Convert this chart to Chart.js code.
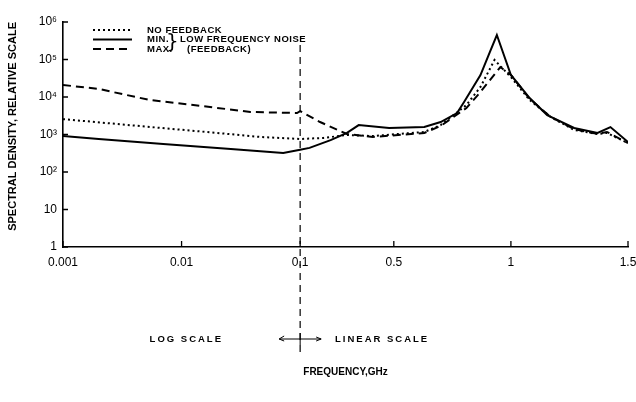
<!DOCTYPE html>
<html>
<head>
<meta charset="utf-8">
<title>Spectral density</title>
<script src="https://cdn.jsdelivr.net/npm/chart.js@4.4.1/dist/chart.umd.min.js"></script>
<style>
  html, body { margin: 0; padding: 0; background: #fff; }
</style>
</head>
<body>
<canvas id="spectrumChart" width="636" height="402"></canvas>
<script>
// tick marks
const xTickValues = [0.001, 0.01, 0.1, 0.5, 1, 1.5]
const xTickLabels = ["0.001", "0.01", "0.1", "0.5", "1", "1.5"]
const yTickValues = [1, 10, 100, 1000, 10000, 100000, 1000000]
const yTickLabels = ["1", "10", "10²", "10³", "10⁴", "10⁵", "10⁶"]

// series, frequency in GHz and relative spectral density
const noFeedbackFreq = [0.001, 0.0054, 0.02, 0.046, 0.1, 0.2, 0.3, 0.41, 0.63, 0.7, 0.81, 0.87, 0.93, 1.0, 1.08, 1.17, 1.27, 1.37, 1.41, 1.5]
const noFeedbackDensity = [2570, 1590, 1100, 860, 760, 810, 970, 910, 1170, 1780, 6100, 18500, 97000, 34000, 8300, 2930, 1320, 1030, 1100, 590]

const minFreq = [0.001, 0.002, 0.007, 0.026, 0.072, 0.1, 0.14, 0.23, 0.3, 0.35, 0.48, 0.63, 0.7, 0.77, 0.8, 0.87, 0.91, 0.94, 1.0, 1.08, 1.155, 1.27, 1.37, 1.425, 1.5]
const minDensity = [910, 760, 560, 410, 320, 390, 440, 710, 1100, 1780, 1480, 1580, 2150, 3730, 7350, 38600, 158000, 450000, 38600, 9400, 3300, 1490, 1100, 1580, 630]

const maxFreq = [0.001, 0.002, 0.0054, 0.0174, 0.038, 0.094, 0.1, 0.185, 0.3, 0.41, 0.63, 0.7, 0.81, 0.87, 0.955, 1.0, 1.08, 1.17, 1.27, 1.37, 1.41, 1.5]
const maxDensity = [20900, 16400, 8300, 5400, 3990, 3740, 4200, 2150, 1030, 860, 1100, 1690, 5100, 13600, 63000, 38600, 8900, 2930, 1400, 1030, 1170, 590]

// frequency axis is logarithmic up to 0.1 GHz and linear above it
const SPLIT = 0.1
const LINEAR_STRETCH = 1.975 // axis units per GHz on the linear side (one decade = 1 unit)

function toAxis(f) {
  return f <= SPLIT ? Math.log10(f) + 3 : 2 + (f - SPLIT) * LINEAR_STRETCH
}

function points(freqs, values) {
  return freqs.map((f, i) => ({ x: toAxis(f), y: values[i] }))
}

Chart.defaults.font.family = '"Liberation Sans", Arial, sans-serif'
Chart.defaults.color = "#000"

// short tick marks pointing into the plot
const inwardTicks = {
  id: "inwardTicks",
  afterDraw(chart) {
    const { ctx, scales: { x, y } } = chart
    ctx.save()
    ctx.strokeStyle = "#000"
    ctx.lineWidth = 1.3
    ctx.beginPath()
    x.ticks.forEach(t => {
      const px = x.getPixelForValue(t.value)
      ctx.moveTo(px, y.bottom)
      ctx.lineTo(px, y.bottom - 6)
    })
    y.ticks.forEach(t => {
      const py = y.getPixelForValue(t.value)
      ctx.moveTo(x.left, py)
      ctx.lineTo(x.left + 5, py)
    })
    ctx.stroke()
    ctx.restore()
  },
}

// legend with brace, divider line and scale notes
const annotations = {
  id: "annotations",
  afterDraw(chart) {
    const { ctx, scales: { x } } = chart
    const splitX = x.getPixelForValue(toAxis(SPLIT))
    ctx.save()
    ctx.strokeStyle = "#000"
    ctx.fillStyle = "#000"

    // divider between log and linear parts
    ctx.lineWidth = 1.2
    ctx.setLineDash([7, 5])
    ctx.beginPath()
    ctx.moveTo(splitX, 45)
    ctx.lineTo(splitX, 357)
    ctx.stroke()

    // legend samples from the datasets
    const rows = [30, 39.5, 49]
    ctx.font = 'bold 9.5px "Liberation Sans", Arial, sans-serif'
    ctx.textBaseline = "middle"
    ctx.letterSpacing = "0.5px"
    chart.data.datasets.forEach((ds, i) => {
      ctx.lineWidth = ds.borderWidth
      ctx.setLineDash(ds.borderDash || [])
      ctx.beginPath()
      ctx.moveTo(93, rows[i])
      ctx.lineTo(132, rows[i])
      ctx.stroke()
      ctx.fillText(ds.label, 147, rows[i])
    })
    ctx.setLineDash([])
    ctx.letterSpacing = "0px"
    ctx.font = '20px "DejaVu Sans", sans-serif'
    ctx.fillText("}", 166, 43)
    ctx.letterSpacing = "0.5px"
    ctx.font = 'bold 9.5px "Liberation Sans", Arial, sans-serif'
    ctx.fillText("LOW FREQUENCY NOISE", 180, 39.5)
    ctx.fillText("(FEEDBACK)", 187, 49)

    // scale notes with arrows
    const noteY = 339
    ctx.letterSpacing = "2px"
    ctx.textAlign = "right"
    ctx.fillText("LOG SCALE", 223, noteY)
    ctx.textAlign = "left"
    ctx.fillText("LINEAR SCALE", 335, noteY)
    ctx.lineWidth = 1
    ctx.beginPath()
    ctx.moveTo(splitX - 21, noteY)
    ctx.lineTo(splitX + 21, noteY)
    ctx.moveTo(splitX, noteY - 6)
    ctx.lineTo(splitX, noteY + 6)
    ctx.moveTo(splitX - 16, noteY - 3)
    ctx.lineTo(splitX - 21, noteY)
    ctx.lineTo(splitX - 16, noteY + 2)
    ctx.moveTo(splitX + 16, noteY - 2)
    ctx.lineTo(splitX + 21, noteY)
    ctx.lineTo(splitX + 16, noteY + 2)
    ctx.stroke()
    ctx.restore()
  },
}

const line = {
  borderColor: "#000",
  borderWidth: 2,
  pointRadius: 0,
  tension: 0,
  fill: false,
}

new Chart(document.getElementById("spectrumChart"), {
  type: "line",
  data: {
    datasets: [
      { ...line, label: "NO FEEDBACK", data: points(noFeedbackFreq, noFeedbackDensity), borderDash: [2, 3] },
      { ...line, label: "MIN.", data: points(minFreq, minDensity) },
      { ...line, label: "MAX.", data: points(maxFreq, maxDensity), borderDash: [8, 5] },
    ],
  },
  options: {
    responsive: false,
    animation: false,
    layout: { padding: { top: 22, right: 0, left: 0, bottom: 0 } },
    plugins: {
      legend: { display: false },
      tooltip: { enabled: false },
    },
    scales: {
      x: {
        type: "linear",
        min: toAxis(xTickValues[0]),
        max: toAxis(xTickValues[xTickValues.length - 1]),
        afterBuildTicks: scale => {
          scale.ticks = xTickValues.map(f => ({ value: toAxis(f) }))
        },
        afterFit: scale => {
          scale.height = 155
          scale.paddingLeft = 0
          scale.paddingRight = 8
        },
        ticks: {
          padding: 8,
          maxRotation: 0,
          font: { size: 12 },
          callback: (value, index) => xTickLabels[index],
        },
        grid: { drawOnChartArea: false, drawTicks: false },
        border: { color: "#000", width: 1.6 },
        title: {
          display: true,
          text: "FREQUENCY,GHz",
          font: { size: 10, weight: "bold" },
          padding: { top: 0, bottom: 24 },
        },
      },
      y: {
        type: "logarithmic",
        min: 1,
        max: 1000000,
        afterBuildTicks: scale => {
          scale.ticks = yTickValues.map(v => ({ value: v }))
        },
        afterFit: scale => {
          scale.width = 63
        },
        ticks: {
          padding: 6,
          font: { size: 12 },
          callback: (value, index) => yTickLabels[index],
        },
        grid: { drawOnChartArea: false, drawTicks: false },
        border: { color: "#000", width: 1.6 },
        title: {
          display: true,
          text: "SPECTRAL DENSITY, RELATIVE SCALE",
          align: "end",
          font: { size: 11, weight: "bold" },
          padding: { top: 6, bottom: 0 },
        },
      },
    },
  },
  plugins: [inwardTicks, annotations],
})
</script>
</body>
</html>
